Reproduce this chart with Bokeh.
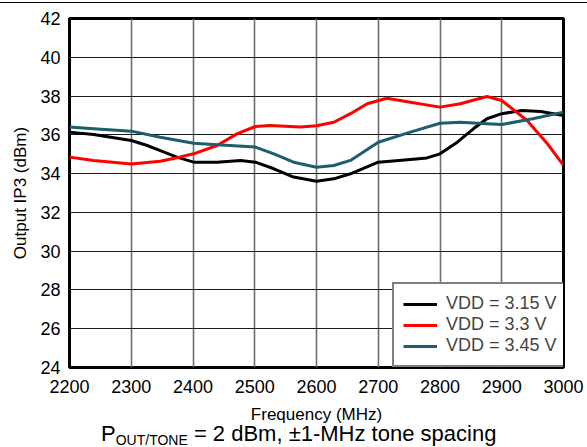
from bokeh.plotting import figure
from bokeh.models import FixedTicker, Legend, LegendItem, Div
from bokeh.layouts import column
from bokeh.embed import file_html
from bokeh.resources import INLINE

# ---- data ----
freq_315 = [2200, 2239, 2300, 2326, 2347, 2374, 2401, 2439, 2477, 2501, 2531, 2563, 2600, 2628, 2655, 2700, 2752, 2779, 2800, 2828, 2854, 2876, 2900, 2933, 2963, 3000]
ip3_315 = [36.14, 36.02, 35.71, 35.45, 35.19, 34.85, 34.59, 34.59, 34.68, 34.59, 34.25, 33.82, 33.61, 33.73, 33.99, 34.59, 34.73, 34.81, 35.02, 35.62, 36.31, 36.83, 37.09, 37.26, 37.2, 37.0]

freq_330 = [2200, 2239, 2300, 2347, 2374, 2401, 2439, 2471, 2501, 2525, 2574, 2600, 2628, 2655, 2682, 2714, 2752, 2800, 2833, 2876, 2900, 2941, 2974, 3000]
ip3_330 = [34.85, 34.68, 34.5, 34.64, 34.82, 35.02, 35.45, 36.05, 36.43, 36.48, 36.4, 36.47, 36.65, 37.09, 37.6, 37.89, 37.68, 37.43, 37.6, 37.98, 37.77, 36.74, 35.54, 34.42]

freq_345 = [2200, 2239, 2300, 2347, 2401, 2439, 2501, 2531, 2563, 2600, 2628, 2655, 2700, 2752, 2800, 2833, 2876, 2900, 2950, 3000]
ip3_345 = [36.4, 36.31, 36.19, 35.88, 35.57, 35.49, 35.37, 35.02, 34.59, 34.33, 34.42, 34.68, 35.62, 36.14, 36.6, 36.65, 36.57, 36.53, 36.83, 37.17]

x_ticks = [2200, 2300, 2400, 2500, 2600, 2700, 2800, 2900, 3000]
y_ticks = [24, 26, 28, 30, 32, 34, 36, 38, 40, 42]
series_labels = ["VDD = 3.15 V", "VDD = 3.3 V", "VDD = 3.45 V"]
series_colors = ["#000000", "#ff0000", "#1b5e6d"]

FONT = "Liberation Sans"

p = figure(width=587, height=428, output_backend="svg", toolbar_location=None,
           x_range=(2200, 3000), y_range=(24, 42),
           min_border_left=69, min_border_right=24, min_border_top=18, min_border_bottom=61,
           background_fill_color="white", border_fill_color="white")

p.outline_line_color = "black"
p.outline_line_width = 3

for ax in (p.xaxis[0], p.yaxis[0]):
    ax.axis_line_color = None
    ax.major_tick_line_color = None
    ax.minor_tick_line_color = None
    ax.major_tick_out = 0
    ax.major_tick_in = 0
    ax.major_label_text_font = FONT
    ax.major_label_text_font_size = "18px"
    ax.major_label_text_color = "black"
    ax.axis_label_text_font = FONT
    ax.axis_label_text_font_style = "normal"
    ax.axis_label_text_font_size = "17px"
    ax.axis_label_text_color = "black"

p.xaxis[0].ticker = FixedTicker(ticks=x_ticks)
p.yaxis[0].ticker = FixedTicker(ticks=y_ticks)
p.xaxis[0].axis_label = "Frequency (MHz)"
p.yaxis[0].axis_label = "Output IP3 (dBm)"
p.xaxis[0].major_label_standoff = 12
p.xaxis[0].axis_label_standoff = 9
p.yaxis[0].major_label_standoff = 9
p.yaxis[0].axis_label_standoff = 7

p.xgrid.grid_line_color = "#6e6e6e"
p.xgrid.grid_line_width = 1.6
p.ygrid.grid_line_color = "#1a1a1a"
p.ygrid.grid_line_width = 1.2

r1 = p.line(freq_315, ip3_315, line_color=series_colors[0], line_width=3, line_join="round")
r2 = p.line(freq_330, ip3_330, line_color=series_colors[1], line_width=3, line_join="round")
r3 = p.line(freq_345, ip3_345, line_color=series_colors[2], line_width=3, line_join="round")

legend = Legend(items=[LegendItem(label=series_labels[0], renderers=[r1]),
                       LegendItem(label=series_labels[1], renderers=[r2]),
                       LegendItem(label=series_labels[2], renderers=[r3])],
                location=(323, 0))
legend.label_text_font = FONT
legend.label_text_font_size = "18px"
legend.label_height = 20
legend.glyph_height = 20
legend.glyph_width = 34
legend.label_standoff = 9
legend.spacing = 0
legend.padding = 9
legend.margin = 0
legend.border_line_color = "black"
legend.border_line_width = 2.5
legend.background_fill_color = "white"
legend.background_fill_alpha = 1
p.add_layout(legend, "center")

subtitle_html = (
    '<div style="position:fixed;left:0;top:2px;width:587px;height:0;border-top:1.5px solid #000;"></div>'
    '<div style="position:relative;top:-6px;font-family:\'Liberation Sans\';font-size:22px;line-height:13px;'
    'color:#000;padding-left:96px;white-space:nowrap;">'
    'P<span style="font-size:14px;vertical-align:-4px;">OUT/TONE</span>'
    ' = 2 dBm, \u00b11-MHz tone spacing</div>'
)
subtitle = Div(width=587, height=19, text=subtitle_html, styles={"overflow": "visible"})

layout = column(p, subtitle, spacing=0)

open("out.html", "w").write(file_html(layout, INLINE))
